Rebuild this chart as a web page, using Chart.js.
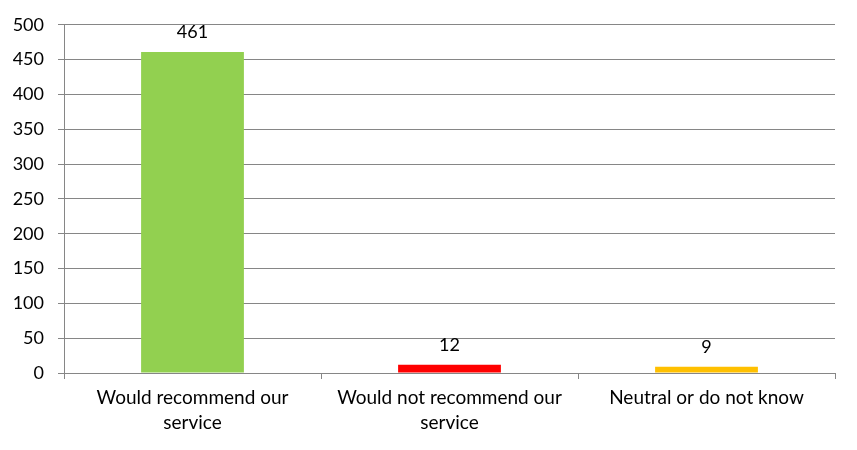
<!DOCTYPE html>
<html>
<head>
<meta charset="utf-8">
<script src="https://cdn.jsdelivr.net/npm/chart.js@4/dist/chart.umd.min.js"></script>
<style>
  html, body { margin: 0; padding: 0; background: #fff; }
  #wrap { width: 857px; height: 450px; position: relative; }
</style>
</head>
<body>
<div id="wrap"><canvas id="c" width="857" height="450"></canvas></div>
<script>
const categories = [["Would recommend our", "service"], ["Would not recommend our", "service"], "Neutral or do not know"];
const values = [461, 12, 9];
const barColors = ["#92D050", "#FF0000", "#FFC000"];
const yTicks = [0, 50, 100, 150, 200, 250, 300, 350, 400, 450, 500];

const FONT = "Lato, 'Open Sans', sans-serif";
const gridColor = "#868686";

const dataLabels = {
  id: "dataLabels",
  afterDatasetsDraw(chart) {
    const ctx = chart.ctx;
    const meta = chart.getDatasetMeta(0);
    ctx.save();
    ctx.font = "18px " + FONT;
    ctx.fillStyle = "#000";
    ctx.textAlign = "center";
    ctx.textBaseline = "alphabetic";
    meta.data.forEach((bar, i) => {
      ctx.fillText(String(values[i]), bar.x, bar.y - 14);
    });
    ctx.restore();
  }
};

new Chart(document.getElementById("c"), {
  type: "bar",
  data: {
    labels: categories,
    datasets: [{
      data: values,
      backgroundColor: barColors,
      borderWidth: 0,
      barPercentage: 0.4,
      categoryPercentage: 1.0
    }]
  },
  options: {
    responsive: false,
    animation: false,
    devicePixelRatio: 1,
    layout: { padding: { top: 23, right: 22, bottom: 0, left: 0 } },
    plugins: { legend: { display: false }, tooltip: { enabled: false } },
    scales: {
      x: {
        grid: { drawOnChartArea: false, drawTicks: true, tickLength: 6, color: gridColor, lineWidth: 1 },
        border: { display: true, color: gridColor, width: 1 },
        ticks: { color: "#000", font: { family: FONT, size: 19, lineHeight: 1.3 }, padding: 7, maxRotation: 0, autoSkip: false },
        afterFit(scale) { scale.height = 77; }
      },
      y: {
        min: 0, max: 500,
        afterBuildTicks(scale) { scale.ticks = yTicks.map(v => ({ value: v })); },
        grid: { color: gridColor, lineWidth: 1, tickLength: 6 },
        border: { display: true, color: gridColor, width: 1 },
        ticks: { color: "#000", font: { family: FONT, size: 18 }, padding: 14 },
        afterFit(scale) { scale.width = 64; }
      }
    }
  },
  plugins: [dataLabels]
});
</script>
</body>
</html>
